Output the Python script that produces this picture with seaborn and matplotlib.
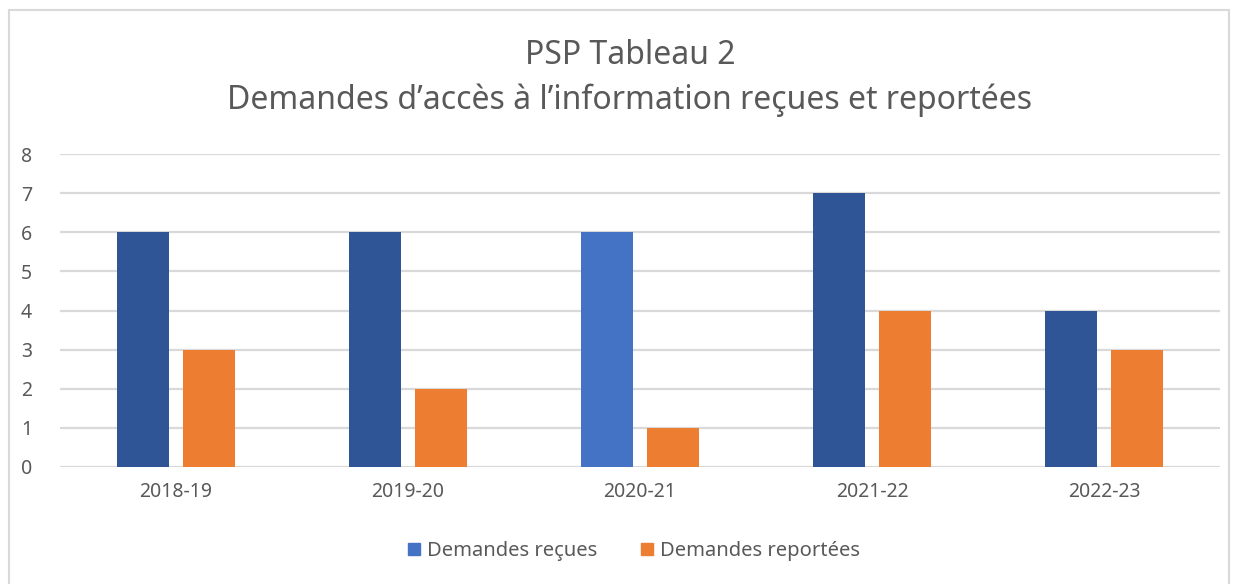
import matplotlib
matplotlib.use("Agg")
import matplotlib.pyplot as plt
import pandas as pd
import seaborn as sns
from matplotlib.patches import Rectangle, Patch

# Data
years = ["2018-19", "2019-20", "2020-21", "2021-22", "2022-23"]
recues = [6, 6, 6, 7, 4]
reportees = [3, 2, 1, 4, 3]
series = ["Demandes reçues", "Demandes reportées"]

df = pd.DataFrame({
    "annee": years * 2,
    "valeur": recues + reportees,
    "serie": [series[0]] * len(years) + [series[1]] * len(years),
})

sns.set_style("white")
plt.rcParams["font.family"] = ["Noto Sans", "DejaVu Sans"]

text_col = "#595959"
grid_col = "#D9D9D9"
blue_dark = "#2F5597"
blue_light = "#4472C4"
orange = "#ED7D31"

fig = plt.figure(figsize=(12.43, 5.84), dpi=100)
ax = fig.add_axes([60 / 1243, 1 - 467 / 584, 1160 / 1243, 313 / 584])

sns.barplot(data=df, x="annee", y="valeur", hue="serie",
            palette=[blue_dark, orange], saturation=1, width=0.57, gap=0.21,
            linewidth=0, legend=False, ax=ax)

# the 2020-21 "reçues" bar is lighter in the original
bars = ax.patches[:len(years)]
for i, b in enumerate(bars):
    if years[i] == "2020-21":
        b.set_facecolor(blue_light)
for b in ax.patches:
    b.set_zorder(3)

ax.set_ylim(0, 8)
ax.set_yticks(range(0, 9))
ax.set_xlim(-0.5, len(years) - 0.5)
ax.yaxis.grid(True, color=grid_col, linewidth=1.6, zorder=0)
ax.set_axisbelow(True)
for s in ax.spines.values():
    s.set_visible(False)
ax.tick_params(axis="both", length=0, colors=text_col, labelsize=14)
ax.tick_params(axis="y", pad=20)
ax.tick_params(axis="x", pad=11)
ax.set_xlabel("")
ax.set_ylabel("")

fig.text(630 / 1243, 1 - 55 / 584, "PSP Tableau 2", ha="center", va="center",
         fontsize=23, color=text_col)
fig.text(630 / 1243, 1 - 100 / 584,
         "Demandes d\u2019accès à l\u2019information reçues et reportées",
         ha="center", va="center", fontsize=23, color=text_col)

handles = [Patch(facecolor=blue_light, edgecolor=blue_light),
           Patch(facecolor=orange, edgecolor=orange)]
fig.legend(handles, series, loc="center", bbox_to_anchor=(634 / 1243, 1 - 551 / 584),
           ncol=2, frameon=False, fontsize=14.5, labelcolor=text_col,
           handlelength=0.6, handleheight=0.6, handletextpad=0.35, columnspacing=2.2)

# chart frame
fig.patches.append(Rectangle((9 / 1243, -0.05), 1220 / 1243, 1.05 - 10 / 584,
                             transform=fig.transFigure, fill=False,
                             edgecolor="#D9D9D9", linewidth=1.5))

fig.savefig("out.png", dpi=100, facecolor="white")
